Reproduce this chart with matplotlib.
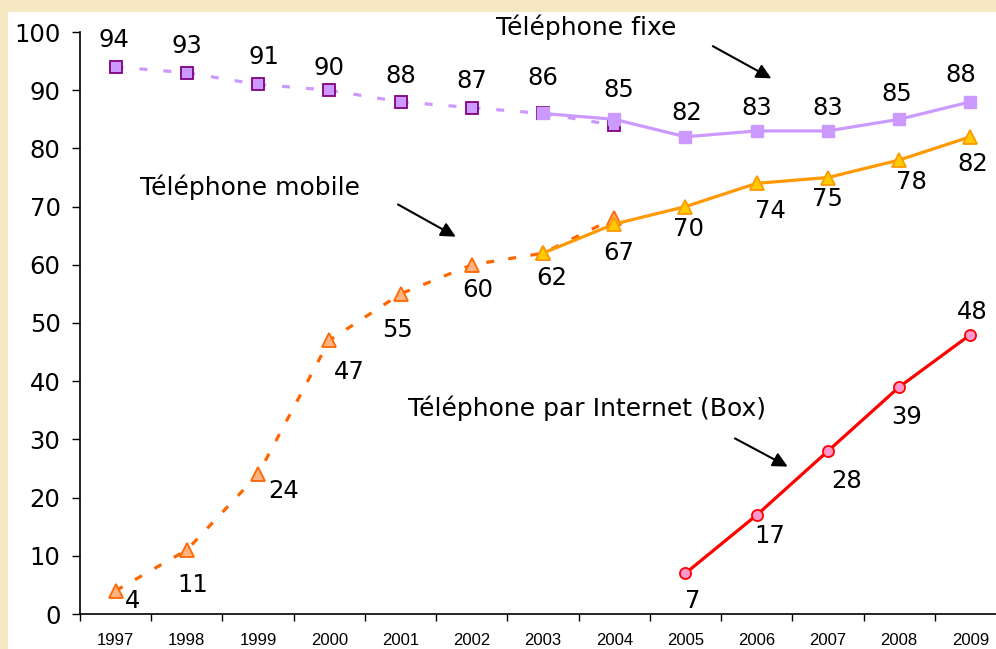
import matplotlib.pyplot as plt
from matplotlib.patches import Rectangle

years = ["1997", "1998", "1999", "2000", "2001", "2002", "2003",
         "2004", "2005", "2006", "2007", "2008", "2009"]

# ancienne série (1997-2004), pointillés
fixe_old = [94, 93, 91, 90, 88, 87, 86, 84]
mobile_old = [4, 11, 24, 47, 55, 60, 62, 68]
# nouvelle série (2003-2009), traits pleins
fixe_new = [86, 85, 82, 83, 83, 85, 88]
mobile_new = [62, 67, 70, 74, 75, 78, 82]
# téléphone par Internet (2005-2009)
box = [7, 17, 28, 39, 48]

# étiquettes affichées
fixe_lbl = [94, 93, 91, 90, 88, 87, 86, 85, 82, 83, 83, 85, 88]
mobile_lbl = [4, 11, 24, 47, 55, 60, 62, 67, 70, 74, 75, 78, 82]
box_lbl = [7, 17, 28, 39, 48]

# position des étiquettes (décalage en pixels par rapport au point)
fixe_off = [(-2, 27), (0, 27), (6, 27), (0, 22), (0, 26), (0, 27), (0, 35),
            (5, 29), (1, 24), (0, 23), (0, 23), (-2, 25), (-10, 27)]
mobile_off = [(17, -10), (6, -35), (26, -17), (20, -32), (-3, -36), (6, -25),
              (9, -25), (5, -29), (3, -22), (14, -28), (0, -22), (12, -22), (2, -27)]
box_off = [(7, -28), (13, -21), (19, -30), (7, -30), (2, 23)]

PX = 0.72  # pixels -> points à 100 dpi

fig = plt.figure(figsize=(9.96, 6.49), dpi=100)
fig.patch.set_facecolor("#f6e8c3")
fig.patches.append(Rectangle((8 / 996, 0), 1, (649 - 12) / 649,
                             transform=fig.transFigure, facecolor="white",
                             edgecolor="none", zorder=-5))

ax = fig.add_axes([80 / 996, 35 / 649, 926 / 996, 582 / 649])
ax.set_facecolor("none")

x_all = list(range(len(years)))
x_old = x_all[:8]
x_new = x_all[6:]
x_box = x_all[8:]

ax.plot(x_old, fixe_old, color="#cc99ff", lw=2.3, ls=(0, (2.5, 5)),
        marker="s", ms=8.5, mfc="#cc99ff", mec="#800080", mew=1.3, zorder=3)
ax.plot(x_new, fixe_new, color="#cc99ff", lw=2.3, marker="s", ms=9,
        mfc="#cc99ff", mec="#cc99ff", zorder=4)

ax.plot(x_old, mobile_old, color="#ff6600", lw=2.3, ls=(0, (2.5, 4.5)),
        marker="^", ms=10, mfc="#ffb380", mec="#ff6600", mew=1.3, zorder=3)
ax.plot(x_new, mobile_new, color="#ff9900", lw=2.3, marker="^", ms=10,
        mfc="#ffcc00", mec="#ff9900", mew=1.3, zorder=4)

ax.plot(x_box, box, color="#ff0000", lw=2.3, marker="o", ms=8,
        mfc="#ff99cc", mec="#ff0000", mew=1.3, zorder=4)

lbl_font = dict(fontsize=17.5, color="black", ha="center", va="center")
for xi, v, (dx, dy) in zip(x_all, fixe_lbl, fixe_off):
    ax.annotate(str(v), (xi, v), xytext=(dx * PX, dy * PX),
                textcoords="offset points", **lbl_font)
for xi, v, (dx, dy) in zip(x_all, mobile_lbl, mobile_off):
    ax.annotate(str(v), (xi, v), xytext=(dx * PX, dy * PX),
                textcoords="offset points", **lbl_font)
for xi, v, (dx, dy) in zip(x_box, box_lbl, box_off):
    ax.annotate(str(v), (xi, v), xytext=(dx * PX, dy * PX),
                textcoords="offset points", **lbl_font)

# titres des séries avec flèches
arrow = dict(arrowstyle="-|>", color="black", lw=1.5, mutation_scale=22)
ax.text(6.61, 100.9, "Téléphone fixe", fontsize=18, ha="center", va="center")
ax.annotate("", xy=(9.24, 91.8), xytext=(8.35, 97.8), arrowprops=arrow)
ax.text(1.88, 73.4, "Téléphone mobile", fontsize=18, ha="center", va="center")
ax.annotate("", xy=(4.81, 64.6), xytext=(3.93, 70.6), arrowprops=arrow)
ax.text(6.62, 35.4, "Téléphone par Internet (Box)", fontsize=18,
        ha="center", va="center")
ax.annotate("", xy=(9.47, 25.1), xytext=(8.66, 30.4), arrowprops=arrow)

ax.set_xlim(-0.5, 12.5)
ax.set_ylim(0, 100)
ax.set_yticks(range(0, 101, 10))
ax.tick_params(axis="y", labelsize=17.5, length=6, width=1, pad=8)

ax.set_xticks(x_all)
ax.set_xticklabels(years, family=["Liberation Sans Narrow", "Liberation Sans"],
                   fontsize=12)
ax.set_xticks([i - 0.5 for i in range(len(years) + 1)], minor=True)
ax.tick_params(axis="x", which="major", length=0, pad=14)
ax.tick_params(axis="x", which="minor", length=5, width=1)

for s in ["top", "right"]:
    ax.spines[s].set_visible(False)
for s in ["left", "bottom"]:
    ax.spines[s].set_linewidth(1.2)

fig.savefig("out.png", dpi=100, facecolor=fig.get_facecolor())
